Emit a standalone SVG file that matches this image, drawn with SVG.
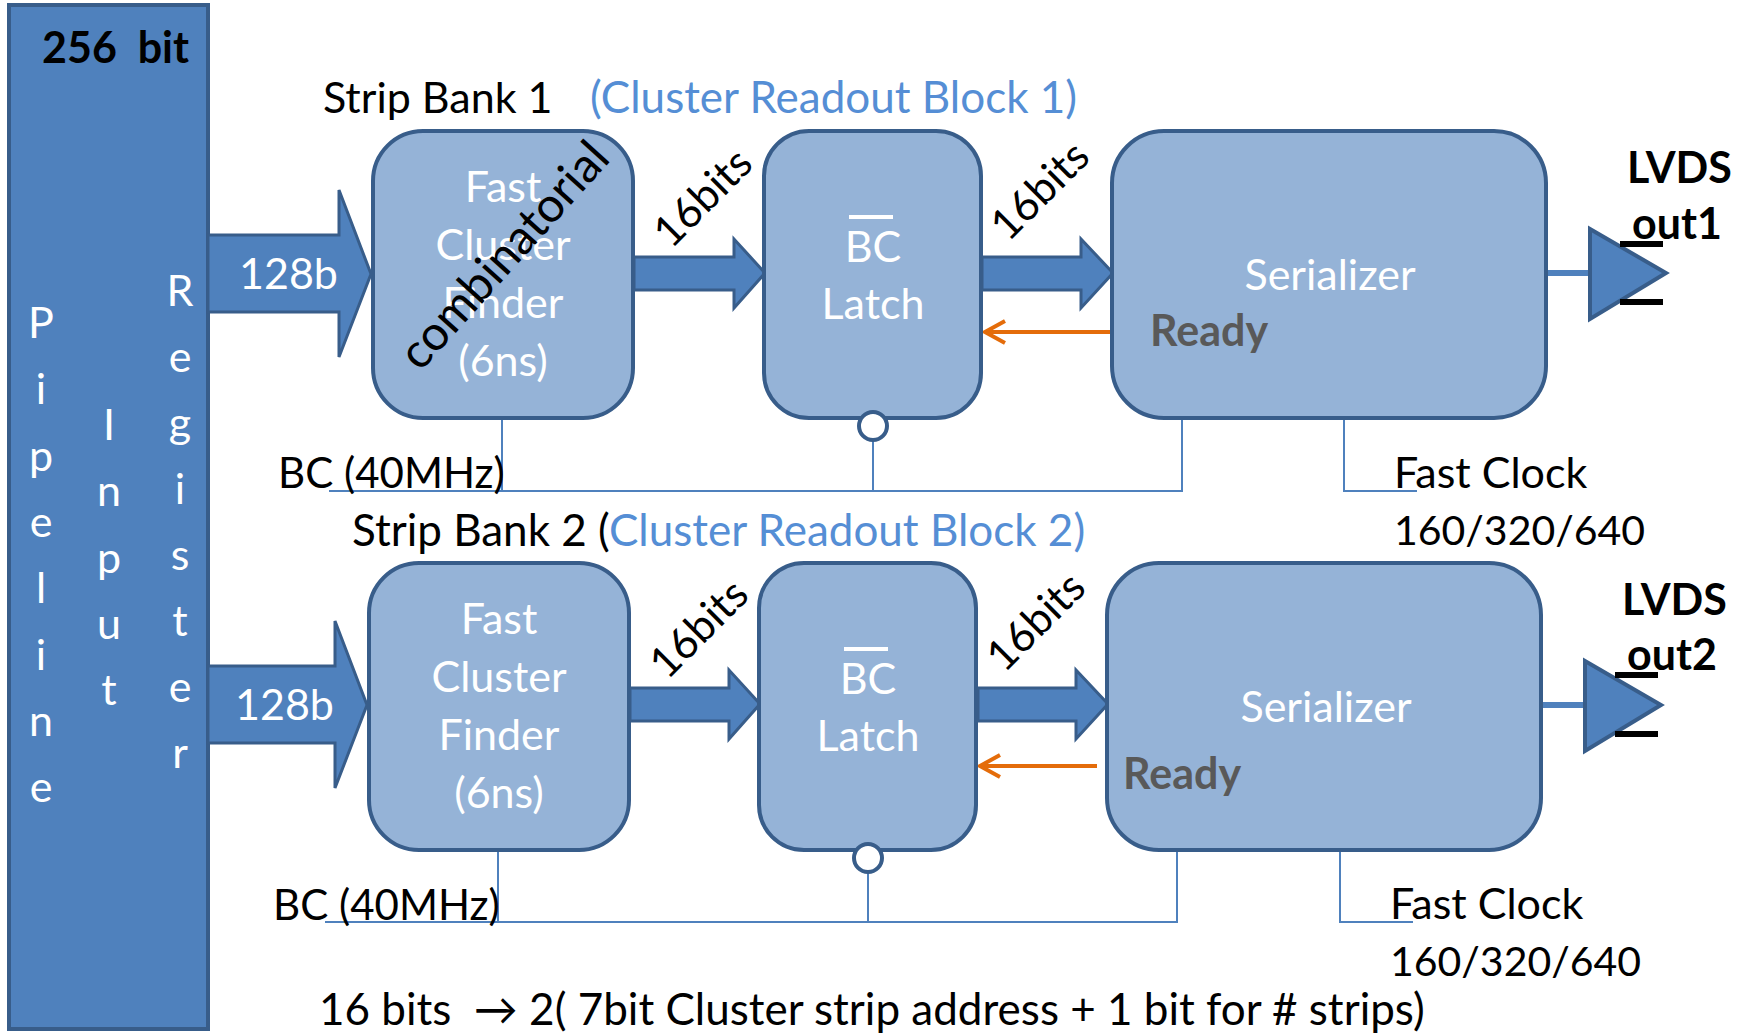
<svg xmlns="http://www.w3.org/2000/svg" width="1738" height="1034" viewBox="0 0 1738 1034">
  <style>
    text { font-family: Lato, "Liberation Sans", "DejaVu Sans", sans-serif; font-size: 43px; }
    .pre { white-space: pre; }
    .s41 { font-size: 41px; }
    .s42 { font-size: 42px; }
    .s44 { font-size: 44px; }
    .s48 { font-size: 48px; }
    .w { fill: #ffffff; }
    .k { fill: #000000; }
    .b { fill: #558ed5; }
    .bold { font-weight: bold; }
    .rdy { fill: #595959; font-weight: bold; }
    .mid { text-anchor: middle; }
    .reg { fill: #4f81bd; stroke: #385d8a; stroke-width: 4; }
    .box { fill: #95b3d7; stroke: #385d8a; stroke-width: 4; }
    .bus { fill: #4f81bd; stroke: #385d8a; stroke-width: 3; stroke-linejoin: miter; }
    .clk { fill: none; stroke: #4f81bd; stroke-width: 2; }
    .back { fill: none; stroke: #e46c0a; stroke-width: 4; stroke-linecap: butt; }
    .out { stroke: #4f81bd; stroke-width: 6; }
    .drv { fill: #4f81bd; stroke: #385d8a; stroke-width: 4; stroke-linejoin: miter; }
    .bar { fill: #000000; }
    .inv { fill: #ffffff; stroke: #385d8a; stroke-width: 4; }
  </style>

  <!-- 256-bit pipeline input register -->
  <g id="pipeline-register">
    <rect class="reg" x="9" y="5" width="199" height="1024"/>
    <text class="k bold pre" x="42" y="63">256  bit</text>
    <text class="w mid">
      <tspan x="41" y="338">P</tspan><tspan x="41" y="404">i</tspan><tspan x="41" y="471">p</tspan><tspan x="41" y="537">e</tspan><tspan x="41" y="603">l</tspan><tspan x="41" y="670">i</tspan><tspan x="41" y="736">n</tspan><tspan x="41" y="802">e</tspan>
    </text>
    <text class="w mid">
      <tspan x="109" y="440">I</tspan><tspan x="109" y="506">n</tspan><tspan x="109" y="573">p</tspan><tspan x="109" y="639">u</tspan><tspan x="109" y="705">t</tspan>
    </text>
    <text class="w mid">
      <tspan x="180" y="306">R</tspan><tspan x="180" y="372">e</tspan><tspan x="180" y="438">g</tspan><tspan x="180" y="504">i</tspan><tspan x="180" y="570">s</tspan><tspan x="180" y="636">t</tspan><tspan x="180" y="702">e</tspan><tspan x="180" y="768">r</tspan>
    </text>
  </g>

  <!-- data buses, ready feedback and clock wiring -->
  <g id="connectors">
    <!-- bank 1 data paths -->
    <polygon class="bus" points="208,235 339,235 339,190 371,274 339,357 339,312 208,312"/>
    <polygon class="bus" points="634,257 734,257 734,239 765,273 734,308 734,290 634,290"/>
    <polygon class="bus" points="982,257 1081,257 1081,239 1113,273 1081,308 1081,290 982,290"/>
    <line class="out" x1="1547" y1="273" x2="1592" y2="273"/>
    <line class="back" x1="1111" y1="332" x2="986" y2="332"/>
    <polyline class="back" points="1005,321 985,332 1005,343"/>
    <!-- bank 1 clocks -->
    <polyline class="clk" points="329,491 1182,491 1182,419"/>
    <line class="clk" x1="502" y1="419" x2="502" y2="491"/>
    <line class="clk" x1="873" y1="440" x2="873" y2="491"/>
    <polyline class="clk" points="1344,419 1344,491 1417,491"/>

    <!-- bank 2 data paths -->
    <polygon class="bus" points="208,666 335,666 335,621 367,705 335,788 335,743 208,743"/>
    <polygon class="bus" points="630,688 729,688 729,670 760,704 729,739 729,721 630,721"/>
    <polygon class="bus" points="978,688 1076,688 1076,670 1108,704 1076,739 1076,721 978,721"/>
    <line class="out" x1="1543" y1="705" x2="1587" y2="705"/>
    <line class="back" x1="1097" y1="766" x2="981" y2="766"/>
    <polyline class="back" points="1000,755 980,766 1000,777"/>
    <!-- bank 2 clocks -->
    <polyline class="clk" points="325,922 1177,922 1177,850"/>
    <line class="clk" x1="498" y1="850" x2="498" y2="922"/>
    <line class="clk" x1="868" y1="872" x2="868" y2="922"/>
    <polyline class="clk" points="1340,850 1340,922 1413,922"/>
  </g>

  <!-- Strip bank 1 -->
  <g id="bank1-title">
    <text class="k" x="323" y="113">Strip Bank 1</text>
    <text class="b s44" x="590" y="113">(Cluster Readout Block 1)</text>
  </g>
  <g id="bank1-finder">
    <rect class="box" x="373" y="131" width="260" height="287" rx="50"/>
    <text class="w mid"><tspan x="503" y="202">Fast</tspan><tspan x="503" y="260">Cluster</tspan><tspan x="503" y="318">Finder</tspan><tspan x="503" y="376">(6ns)</tspan></text>
    <text class="k mid s48" transform="translate(516,266) rotate(-48)">combinatorial</text>
  </g>
  <g id="bank1-128b"><text class="w" x="239" y="289">128b</text></g>
  <g id="bank1-16bits-a"><text class="k mid" transform="translate(713,208) rotate(-45)">16bits</text></g>
  <g id="bank1-latch">
    <rect class="box" x="764" y="131" width="217" height="287" rx="45"/>
    <rect x="849" y="215" width="44" height="4" fill="#ffffff"/>
    <text class="w mid" x="873" y="262">BC</text>
    <text class="w mid" x="873" y="319">Latch</text>
    <circle class="inv" cx="873" cy="426" r="14"/>
  </g>
  <g id="bank1-16bits-b"><text class="k mid" transform="translate(1050,201) rotate(-45)">16bits</text></g>
  <g id="bank1-serializer">
    <rect class="box" x="1112" y="131" width="434" height="287" rx="52"/>
    <text class="w mid" x="1330" y="290">Serializer</text>
    <text class="rdy" x="1150" y="346">Ready</text>
  </g>
  <g id="bank1-lvds">
    <polygon class="drv" points="1590,229 1666,273 1590,319"/>
    <rect class="bar" x="1620" y="241" width="43" height="6"/>
    <rect class="bar" x="1620" y="299" width="43" height="6"/>
    <text class="k bold" x="1627" y="183">LVDS</text>
    <text class="k bold" x="1632" y="239">out1</text>
  </g>
  <g id="bank1-clock-labels">
    <text class="k s42" x="278" y="488">BC (40MHz)</text>
    <text class="k" x="1394" y="488">Fast Clock</text>
    <text class="k s41" x="1394" y="545">160/320/640</text>
  </g>

  <!-- Strip bank 2 -->
  <g id="bank2-title">
    <text class="k s44" x="352" y="546">Strip Bank 2 (<tspan class="b">Cluster Readout Block 2)</tspan></text>
  </g>
  <g id="bank2-finder">
    <rect class="box" x="369" y="563" width="260" height="287" rx="50"/>
    <text class="w mid"><tspan x="499" y="634">Fast</tspan><tspan x="499" y="692">Cluster</tspan><tspan x="499" y="750">Finder</tspan><tspan x="499" y="808">(6ns)</tspan></text>
  </g>
  <g id="bank2-128b"><text class="w" x="235" y="720">128b</text></g>
  <g id="bank2-16bits-a"><text class="k mid" transform="translate(709,639) rotate(-45)">16bits</text></g>
  <g id="bank2-latch">
    <rect class="box" x="759" y="563" width="217" height="287" rx="45"/>
    <rect x="844" y="647" width="44" height="4" fill="#ffffff"/>
    <text class="w mid" x="868" y="694">BC</text>
    <text class="w mid" x="868" y="751">Latch</text>
    <circle class="inv" cx="868" cy="858" r="14"/>
  </g>
  <g id="bank2-16bits-b"><text class="k mid" transform="translate(1046,632) rotate(-45)">16bits</text></g>
  <g id="bank2-serializer">
    <rect class="box" x="1107" y="563" width="434" height="287" rx="52"/>
    <text class="w mid" x="1326" y="722">Serializer</text>
    <text class="rdy" x="1123" y="789">Ready</text>
  </g>
  <g id="bank2-lvds">
    <polygon class="drv" points="1585,661 1661,705 1585,751"/>
    <rect class="bar" x="1615" y="672" width="43" height="6"/>
    <rect class="bar" x="1615" y="731" width="43" height="6"/>
    <text class="k bold" x="1622" y="615">LVDS</text>
    <text class="k bold" x="1627" y="670">out2</text>
  </g>
  <g id="bank2-clock-labels">
    <text class="k s42" x="273" y="920">BC (40MHz)</text>
    <text class="k" x="1390" y="919">Fast Clock</text>
    <text class="k s41" x="1390" y="976">160/320/640</text>
  </g>

  <!-- output word format -->
  <g id="format-note">
    <text class="k pre s44" x="319" y="1025">16 bits  → 2( 7bit Cluster strip address + 1 bit for # strips)</text>
  </g>
</svg>
